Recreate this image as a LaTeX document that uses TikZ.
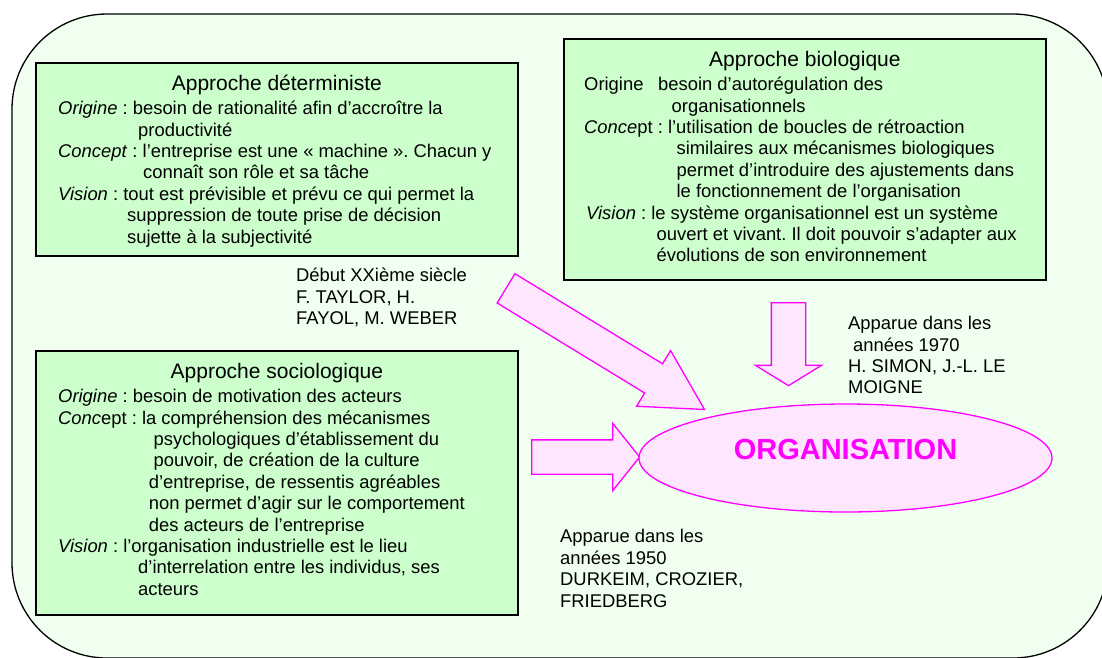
\documentclass[tikz,border=0pt]{standalone}
\usepackage{fontspec}
\setmainfont{Liberation Sans}
\frenchspacing
\usetikzlibrary{positioning,shapes.geometric,shapes.arrows}
\definecolor{panelgreen}{HTML}{F0FFF0}
\definecolor{boxgreen}{HTML}{CCFFCC}
\definecolor{orgpink}{HTML}{FFE6FF}
\definecolor{orgmagenta}{HTML}{FF00FF}
\tikzset{
    %Define style for the background panel
    panel/.style={
           draw=black, line width=1.3pt,
           fill=panelgreen,
           rounded corners=95pt},
    %Define style for the approach boxes
    approach/.style={
           rectangle,
           draw=black, line width=1.8pt,
           fill=boxgreen,
           anchor=north west,
           inner sep=0pt},
    boxtitle/.style={
           font=\fontsize{21}{24}\selectfont,
           inner sep=0pt,
           text height=16pt,
           text depth=5pt},
    boxbody/.style={
           font=\fontsize{18.4}{21.4}\selectfont,
           align=left,
           inner sep=0pt,
           anchor=north west},
    note/.style={
           font=\fontsize{18.4}{21.4}\selectfont,
           align=left,
           inner sep=0pt},
    % Define block arrow style
    bigarrow/.style={
           single arrow,
           draw=orgmagenta, line width=1.3pt,
           fill=orgpink,
           inner xsep=0pt, inner ysep=16.5pt,
           anchor=tail},
    org/.style={
           ellipse,
           draw=orgmagenta, line width=1.3pt,
           fill=orgpink,
           minimum width=413pt, minimum height=108pt,
           inner sep=0pt,
           text=orgmagenta,
           font=\bfseries\fontsize{29}{32}\selectfont,
           text depth=18pt}
}

\begin{document}
\begin{tikzpicture}[x=1pt, y=-1pt]
    \useasboundingbox (0,0) rectangle (1102,657);
    \draw[panel] (12,14) rectangle (1108,658);
 %boxes
    \node[approach, minimum width=482pt, minimum height=193pt] (det) at (35,62) {};
    \node[approach, minimum width=482pt, minimum height=241pt] (bio) at (563,38) {};
    \node[approach, minimum width=482pt, minimum height=264pt] (socio) at (35,350) {};
    \node[boxtitle, below=12.5pt of det.north] (dettitle) {Approche déterministe};
    \node[boxtitle, below=12.5pt of bio.north] (biotitle) {Approche biologique};
    \node[boxtitle, below=12.5pt of socio.north] (sociotitle) {Approche sociologique};
    \node[boxbody] (detbody) at ([xshift=23pt, yshift=-38pt]det.north west) {\rule{0pt}{14.5pt}\textit{Origine} : besoin de rationalité afin d’accroître la\\
        \hspace*{80pt}productivité\\
        \textit{Concept} : l’entreprise est une « machine ». Chacun y\\
        \hspace*{85pt}connaît son rôle et sa tâche\\
        \textit{Vision} : tout est prévisible et prévu ce qui permet la\\
        \hspace*{69pt}suppression de toute prise de décision\\
        \hspace*{69pt}sujette à la subjectivité};
    \node[boxbody] (biobody) at ([xshift=21pt, yshift=-38pt]bio.north west) {\rule{0pt}{14.5pt}\makebox[74pt][l]{Origine}besoin d’autorégulation des\\
        \hspace*{87.5pt}organisationnels\\
        \textit{Conce}pt : l’utilisation de boucles de rétroaction\\
        \hspace*{92.4pt}similaires aux mécanismes biologiques\\
        \hspace*{92.4pt}permet d’introduire des ajustements dans\\
        \hspace*{92.4pt}le fonctionnement de l’organisation\\
        \hspace*{2pt}\textit{Vision} : le système organisationnel est un système\\
        \hspace*{72.4pt}ouvert et vivant. Il doit pouvoir s’adapter aux\\
        \hspace*{72.4pt}évolutions de son environnement};
    \node[boxbody] (sociobody) at ([xshift=23pt, yshift=-38pt]socio.north west) {\rule{0pt}{14.5pt}\textit{Origine} : besoin de motivation des acteurs\\
        \textit{Conc}ept : la compréhension des mécanismes\\
        \hspace*{95.5pt}psychologiques d’établissement du\\
        \hspace*{95.5pt}pouvoir, de création de la culture\\
        \hspace*{90.6pt}d’entreprise, de ressentis agréables\\
        \hspace*{90.6pt}non permet d’agir sur le comportement\\
        \hspace*{90.6pt}des acteurs de l’entreprise\\
        \textit{Vision} : l’organisation industrielle est le lieu\\
        \hspace*{80pt}d’interrelation entre les individus, ses\\
        \hspace*{80pt}acteurs};
 %dates
    \node[note, below right=10.2pt and 261pt of det.south west] (detdate) {\rule{0pt}{14.5pt}Début XXième siècle\\
        F. TAYLOR, H.\\
        FAYOL, M. WEBER};
    \node[note, below right=34.2pt and 285pt of bio.south west] (biodate) {\rule{0pt}{14.5pt}Apparue dans les\\
        \hspace*{5pt}années 1970\\
        H. SIMON, J.-L. LE\\
        MOIGNE};
    \node[note, anchor=north west] (sociodate) at (560,528.2) {\rule{0pt}{14.5pt}Apparue dans les\\
        années 1950\\
        DURKEIM, CROZIER,\\
        FRIEDBERG};
 %arrows
    \node[bigarrow, minimum height=232.5pt, single arrow head extend=15.5pt,
          single arrow tip angle=57.4, rotate=-31.4] (detarrow) at (505.5,288) {};
    \node[bigarrow, minimum height=83pt, single arrow head extend=16pt,
          single arrow tip angle=116.8, rotate=-90] (bioarrow) at (788.5,302) {};
    \node[bigarrow, minimum height=108pt, single arrow head extend=16.5pt,
          single arrow tip angle=102.7] (socioarrow) at (531,457) {};
 %centre
    \node[org] (organisation) at (845.5,458) {ORGANISATION};
\end{tikzpicture}
\end{document}
